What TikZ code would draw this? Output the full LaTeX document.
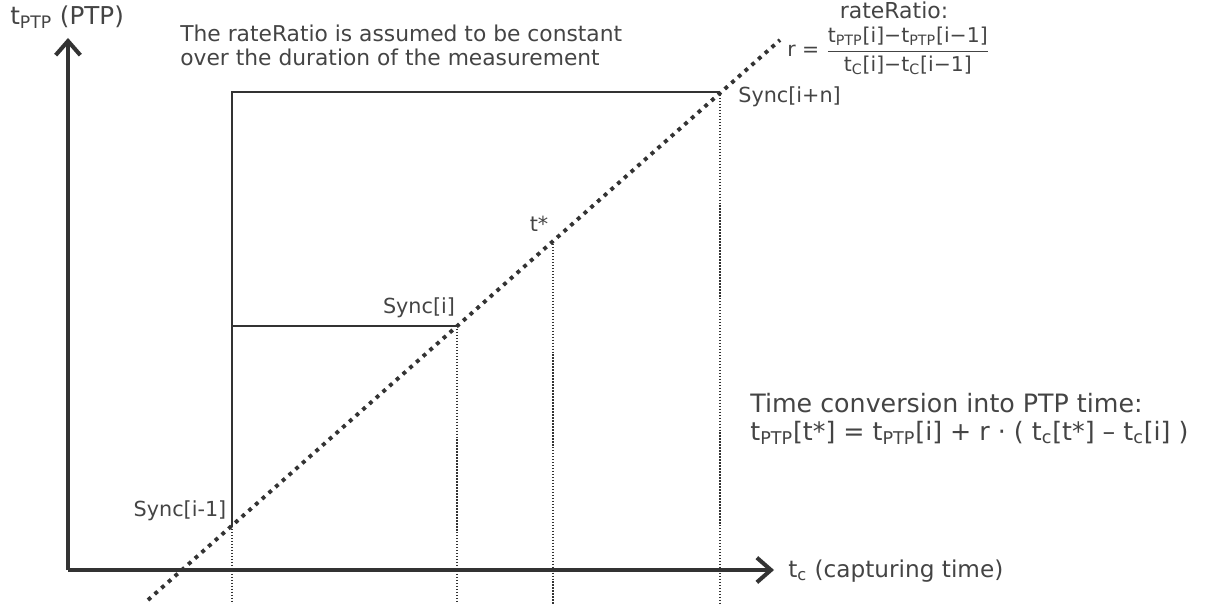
\documentclass[tikz,border=0pt]{standalone}
\usepackage{fontspec}
\setmainfont{DejaVu Sans}
\usetikzlibrary{arrows.meta}
\definecolor{axisgray}{HTML}{333333}
\definecolor{textgray}{HTML}{444444}
\begin{document}
\begin{tikzpicture}[x=0.02cm, y=-0.02cm,
        axis/.style={line width=2.3pt, draw=axisgray, -{Straight Barb[length=8pt,width=14pt]}},
        frame/.style={line width=0.9pt, draw=axisgray},
        rateline/.style={line width=2.2pt, draw=axisgray, dash pattern=on 2.2pt off 2.9pt},
        guide/.style={line width=0.8pt, draw=axisgray, dash pattern=on 0.8pt off 0.9pt},
        lbl/.style={text=textgray, inner sep=0pt, font=\fontsize{11.8}{13}\selectfont},
        big/.style={text=textgray, inner sep=0pt, font=\fontsize{14.4}{15.5}\selectfont, align=left}]
        \useasboundingbox (0,0) rectangle (1224,604);
        % points
            \coordinate (O) at (68,570);
            \coordinate (ytop) at (68,38);
            \coordinate (xend) at (774,570);
            \coordinate (bot) at (0,604);
            \coordinate (lstart) at (148,600);
            \coordinate (lend) at (780,40);
            \coordinate (s0) at (232,526);
            \coordinate (s1) at (457,326);
            \coordinate (ts) at (553,241);
            \coordinate (sn) at (720,92);
            \coordinate (c0) at (232,92);
            \coordinate (c1) at (232,326);
        % guides
            \foreach \p in {s0,s1,ts,sn}{
                \draw[guide] (\p) -- (\p |- bot);
            }
        % frame
            \draw[frame] (s0) -- (c0) -- (sn);
            \draw[frame] (c1) -- (s1);
        % axes
            \draw[axis] (O) -- (ytop);
            \draw[axis] (O) -- (xend);
        % rate
            \draw[rateline] (lstart) -- (lend);
        % labels
            \node[text=textgray, inner sep=0pt, anchor=west, font=\fontsize{14}{16}\selectfont] (ylab) at (10,17) {t\textsubscript{PTP} (PTP)};
            \node[big, anchor=west, font=\fontsize{13.2}{15}\selectfont] (xlab) at (788,571) {t\textsubscript{c} (capturing time)};
            \node[lbl, anchor=west, align=left, font=\fontsize{12.4}{13.6}\selectfont] (note) at (180,45)
                {The rateRatio is assumed to be constant\\over the duration of the measurement};
            \node[lbl, font=\fontsize{12.5}{14}\selectfont] (rtitle) at (894,10) {rateRatio:};
            \node[lbl, anchor=west, font=\fontsize{11.6}{13}\selectfont] (rfrac) at (787,51)
                {$\mbox{r = }\displaystyle\frac{\mbox{t\textsubscript{PTP}[i]−t\textsubscript{PTP}[i−1]}}{\mbox{t\textsubscript{C}[i]−t\textsubscript{C}[i−1]}}$};
            \node[lbl, anchor=west] (lsn) at (738,97) {Sync[i+n]};
            \node[lbl] (lts) at (539,224) {t*};
            \node[lbl] (ls1) at (419,308) {Sync[i]};
            \node[lbl] (ls0) at (180,511) {Sync[i-1]};
            \node[big, anchor=west] (conv) at (750,419)
                {Time conversion into PTP time:\\t\textsubscript{PTP}[t*] = t\textsubscript{PTP}[i] + r · ( t\textsubscript{c}[t*] – t\textsubscript{c}[i] )};
\end{tikzpicture}
\end{document}
